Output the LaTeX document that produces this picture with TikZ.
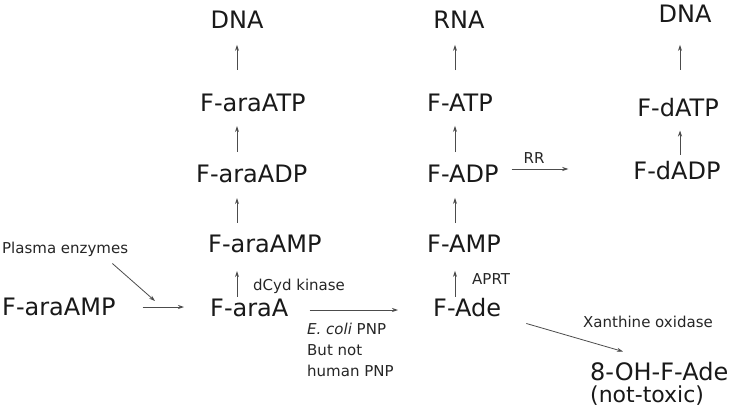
\documentclass[tikz,border=0pt]{standalone}
\usepackage{fontspec}
\setmainfont{DejaVu Sans}
\usetikzlibrary{arrows.meta}
\begin{document}
\begin{tikzpicture}[x=1pt,y=-1pt,
  big/.style={font=\fontsize{24}{28}\selectfont, inner sep=0pt, text=black!90},
  small/.style={font=\fontsize{15}{21}\selectfont, inner sep=0pt, text=black!85},
  arr/.style={draw=black!70, line width=0.8pt, -{Stealth[length=6pt,width=4pt]}}]
\useasboundingbox[fill=white] (0,0) rectangle (739,415);
\coordinate (colL) at (237,0);
\coordinate (colM) at (455,0);
\coordinate (colR) at (680,0);
% left column
\node[big] (dnaA) at (237,20) {DNA};
\node[big,anchor=west] (aATP) at (200,103) {F-araATP};
\node[big,anchor=west] (aADP) at (196,174) {F-araADP};
\node[big,anchor=west] (aAMP) at (208,244) {F-araAMP};
\node[big,anchor=west] (aA) at (210,308) {F-araA};
\node[big,anchor=west] (aAMPl) at (2,307) {F-araAMP};
\node[small,anchor=west] (pe) at (2,249) {Plasma enzymes};
\node[small,anchor=west] (dck) at (253,286) {dCyd kinase};
% middle column
\node[big] (rna) at (459,20) {RNA};
\node[big,anchor=west] (fATP) at (427,103) {F-ATP};
\node[big,anchor=west] (fADP) at (427,174) {F-ADP};
\node[big,anchor=west] (fAMP) at (427,244) {F-AMP};
\node[big,anchor=west] (fAde) at (433,308) {F-Ade};
\node[small,anchor=west] (aprt) at (472,279) {APRT};
% right column
\node[big] (dnaB) at (685,14) {DNA};
\node[big] (dATP) at (678,108) {F-dATP};
\node[big] (dADP) at (677,171) {F-dADP};
\node[small] (rr) at (534,158) {RR};
% lower right
\node[small,anchor=west] (xo) at (583,322) {Xanthine oxidase};
\node[big,anchor=west] (ohfa) at (590,372) {8-OH-F-Ade};
\node[big,anchor=west,font=\fontsize{22}{26}\selectfont] (nt) at (590,396) {(not-toxic)};
% PNP label
\node[small,anchor=north west,align=left] (pnp) at (307,323) {{\itshape E. coli} PNP\\But not\\human PNP};
% arrows: left column
\draw[arr,shorten <=24pt,shorten >=16pt] (colL |- aATP.north) -- (colL |- dnaA.south);
\draw[arr,shorten <=13pt,shorten >=14pt] (colL |- aADP.north) -- (colL |- aATP.south);
\draw[arr,shorten <=12pt,shorten >=15pt] (colL |- aAMP.north) -- (colL |- aADP.south);
\draw[arr,shorten <=2pt,shorten >=18pt] (colL |- aA.north) -- (colL |- aAMP.south);
% middle column
\draw[arr,shorten <=24pt,shorten >=16pt] (colM |- fATP.north) -- (colM |- rna.south);
\draw[arr,shorten <=13pt,shorten >=14pt] (colM |- fADP.north) -- (colM |- fATP.south);
\draw[arr,shorten <=12pt,shorten >=15pt] (colM |- fAMP.north) -- (colM |- fADP.south);
\draw[arr,shorten <=2pt,shorten >=18pt] (colM |- fAde.north) -- (colM |- fAMP.south);
% right column
\draw[arr,shorten <=29pt,shorten >=22pt] (colR |- dATP.north) -- (colR |- dnaB.south);
\draw[arr,shorten <=7pt,shorten >=13pt] (colR |- dADP.north) -- (colR |- dATP.south);
% horizontal
\draw[arr,shorten <=13pt,shorten >=65pt] ([yshift=5pt]fADP.east) -- ([yshift=5pt]fADP.east -| dADP.west);
\draw[arr,shorten <=27pt,shorten >=26pt] (aAMPl.east) -- (aAMPl.east -| aA.west);
\draw[arr,shorten <=21pt,shorten >=35pt] ([yshift=-2pt]aA.east) -- ([yshift=-2pt]aA.east -| fAde.west);
% diagonal
\coordinate (peend) at (155,301);
\draw[arr] ([shift={(-16,7)}]pe.south east) -- (peend);
\draw[arr] ([shift={(25,6)}]fAde.south east) -- ([shift={(33,-11)}]ohfa.north west);
\end{tikzpicture}
\end{document}
